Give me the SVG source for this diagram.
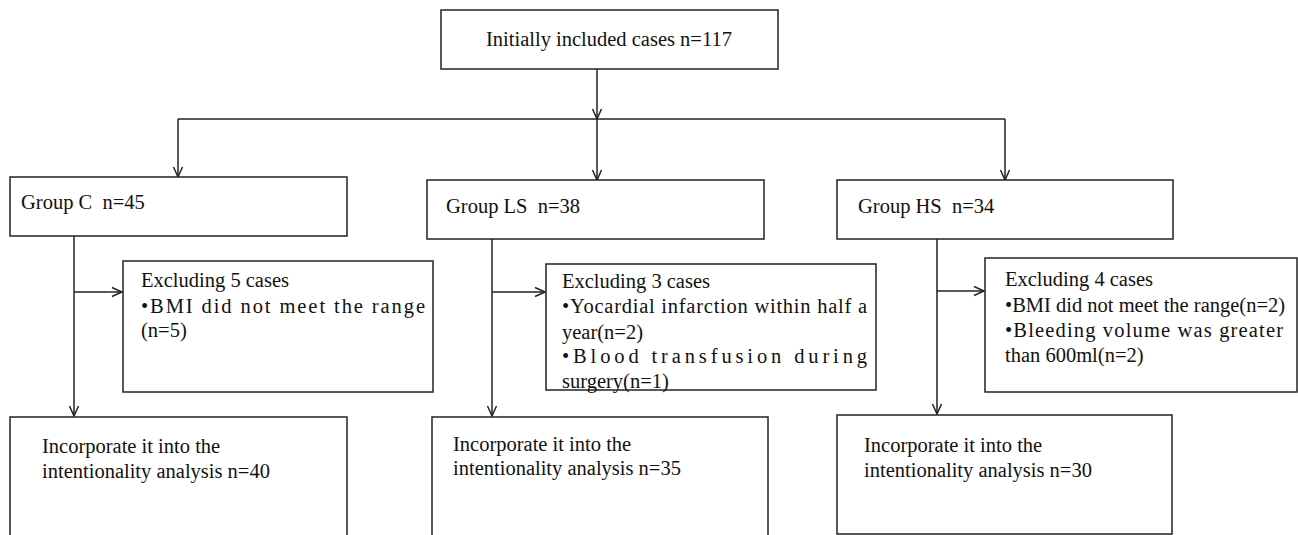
<svg xmlns="http://www.w3.org/2000/svg" width="1298" height="535" viewBox="0 0 1298 535">
<style>
.box{fill:#fff;stroke:#222;stroke-width:1.5}
.t{font-family:"Liberation Serif","Times New Roman",serif;font-size:20.5px;fill:#111}
.ln{fill:none;stroke:#222;stroke-width:1.5}
</style>
<defs>
<marker id="arr" markerUnits="userSpaceOnUse" markerWidth="12" markerHeight="12" refX="10" refY="5" orient="auto" overflow="visible">
<path d="M0,0.5 L10,5 L0,9.5" fill="none" stroke="#222" stroke-width="1.5"/>
</marker>
</defs>
<rect width="1298" height="535" fill="#fff"/>
<g id="connectors">
<line class="ln" x1="597" y1="69" x2="597" y2="119" marker-end="url(#arr)"/>
<line class="ln" x1="178" y1="119" x2="1005" y2="119"/>
<line class="ln" x1="178" y1="119" x2="178" y2="177" marker-end="url(#arr)"/>
<line class="ln" x1="597" y1="119" x2="597" y2="180" marker-end="url(#arr)"/>
<line class="ln" x1="1005" y1="119" x2="1005" y2="180" marker-end="url(#arr)"/>
<line class="ln" x1="74" y1="236" x2="74" y2="416" marker-end="url(#arr)"/>
<line class="ln" x1="74" y1="292" x2="122" y2="292" marker-end="url(#arr)"/>
<line class="ln" x1="492" y1="239" x2="492" y2="416" marker-end="url(#arr)"/>
<line class="ln" x1="492" y1="292" x2="545" y2="292" marker-end="url(#arr)"/>
<line class="ln" x1="937" y1="239" x2="937" y2="414" marker-end="url(#arr)"/>
<line class="ln" x1="937" y1="291" x2="984" y2="291" marker-end="url(#arr)"/>
</g>
<g id="top">
<rect class="box" x="441" y="10" width="337" height="59"/>
<text class="t" x="486" y="46">Initially included cases n=117</text>
</g>
<g id="groupC">
<rect class="box" x="10" y="177" width="337" height="59"/>
<text class="t" x="21" y="209" xml:space="preserve">Group C  n=45</text>
</g>
<g id="groupLS">
<rect class="box" x="427" y="180" width="337" height="59"/>
<text class="t" x="446" y="213" xml:space="preserve">Group LS  n=38</text>
</g>
<g id="groupHS">
<rect class="box" x="837" y="180" width="336" height="59"/>
<text class="t" x="858" y="213" xml:space="preserve">Group HS  n=34</text>
</g>
<g id="exclC">
<rect class="box" x="123" y="261" width="310" height="131"/>
<text class="t" x="141" y="287">Excluding 5 cases</text>
<text class="t" x="141" y="313" textLength="284" lengthAdjust="spacing">•BMI did not meet the range</text>
<text class="t" x="141" y="337">(n=5)</text>
</g>
<g id="exclLS">
<rect class="box" x="546" y="264" width="330" height="126"/>
<text class="t" x="562" y="288">Excluding 3 cases</text>
<text class="t" x="562" y="313" textLength="305" lengthAdjust="spacing">•Yocardial infarction within half a</text>
<text class="t" x="562" y="339">year(n=2)</text>
<text class="t" x="562" y="363" textLength="305" lengthAdjust="spacing">•Blood transfusion during</text>
<text class="t" x="562" y="388">surgery(n=1)</text>
</g>
<g id="exclHS">
<rect class="box" x="985" y="258" width="312" height="134"/>
<text class="t" x="1005" y="286">Excluding 4 cases</text>
<text class="t" x="1005" y="312">•BMI did not meet the range(n=2)</text>
<text class="t" x="1005" y="337" textLength="278" lengthAdjust="spacing">•Bleeding volume was greater</text>
<text class="t" x="1005" y="362">than 600ml(n=2)</text>
</g>
<g id="inclC">
<rect class="box" x="10" y="417" width="337" height="125"/>
<text class="t" x="42" y="453">Incorporate it into the</text>
<text class="t" x="42" y="478">intentionality analysis n=40</text>
</g>
<g id="inclLS">
<rect class="box" x="432" y="417" width="336" height="125"/>
<text class="t" x="453" y="451">Incorporate it into the</text>
<text class="t" x="453" y="475">intentionality analysis n=35</text>
</g>
<g id="inclHS">
<rect class="box" x="837" y="415" width="335" height="119"/>
<text class="t" x="864" y="452">Incorporate it into the</text>
<text class="t" x="864" y="477">intentionality analysis n=30</text>
</g>
</svg>
